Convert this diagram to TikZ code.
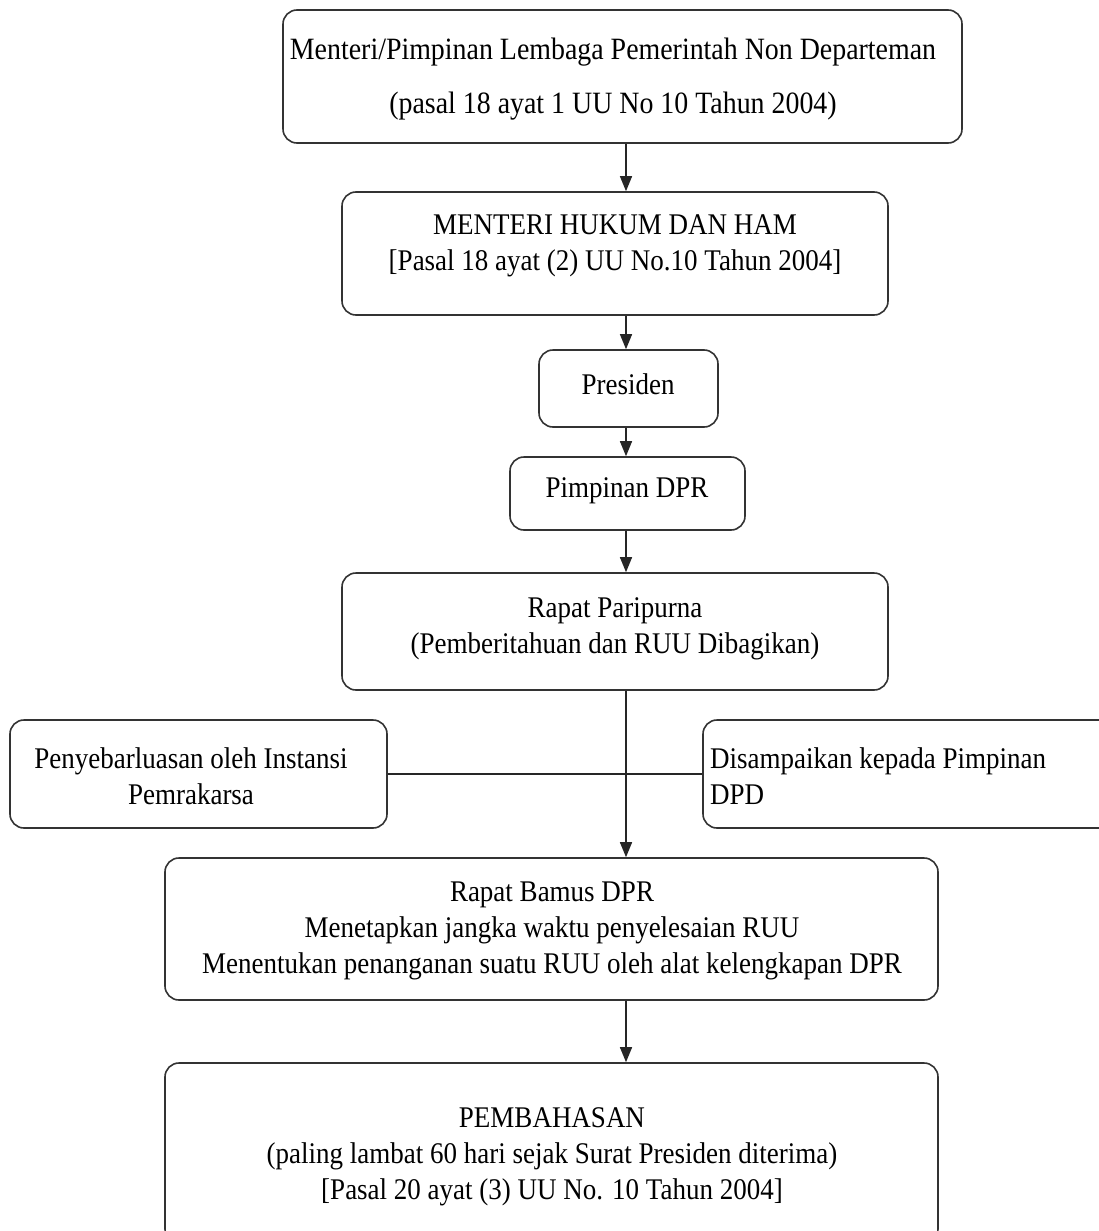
\documentclass[tikz,border=0pt]{standalone}
\usepackage{fontspec}
\setmainfont[FakeStretch=0.9]{Liberation Serif}
\usetikzlibrary{arrows.meta}
\begin{document}
\begin{tikzpicture}[x=1pt,y=-1pt,
  box/.style={draw=black!80, line width=1.6pt, rounded corners=14pt, inner sep=0pt},
  txt/.style={align=center, font=\fontsize{30}{36}\selectfont, inner sep=0pt, text=black},
  arr/.style={draw=black!85, line width=1.4pt, -{Triangle[length=15pt,width=12pt]}},
  ln/.style={draw=black!85, line width=1.4pt}]
\useasboundingbox (0,0) rectangle (1099,1231);
\clip (0,0) rectangle (1099,1231);
\coordinate (ax) at (626,0);

% boxes
\node[box, minimum width=679pt, minimum height=133pt] (b1) at (622.5,76.5) {};
\node[box, minimum width=546pt, minimum height=123pt] (b2) at (615,253.5) {};
\node[box, minimum width=179pt, minimum height=77pt] (b3) at (628.5,388.5) {};
\node[box, minimum width=235pt, minimum height=73pt] (b4) at (627.5,493.5) {};
\node[box, minimum width=546pt, minimum height=117pt] (b5) at (615,631.5) {};
\node[box, minimum width=377pt, minimum height=108pt] (bl) at (198.5,774) {};
\node[box, minimum width=410pt, minimum height=108pt] (br) at (908,774) {};
\node[box, minimum width=773pt, minimum height=142pt] (b6) at (551.5,929) {};
\node[box, minimum width=773pt, minimum height=180pt] (b7) at (551.5,1153) {};

% texts
\node[txt, font=\fontsize{31}{54}\selectfont] (t1) at (613,79) {Menteri/Pimpinan Lembaga Pemerintah Non Departeman\\(pasal 18 ayat 1 UU No 10 Tahun 2004)};
\node[txt] (t2) at (615,246) {MENTERI HUKUM DAN HAM\\{}[Pasal 18 ayat (2) UU No.10 Tahun 2004]};
\node[txt] (t3) at (628,384) {Presiden};
\node[txt] (t4) at (627,491) {Pimpinan DPR};
\node[txt] (t5) at (615,629) {Rapat Paripurna\\(Pemberitahuan dan RUU Dibagikan)};
\node[txt] (tl) at (191,776) {Penyebarluasan oleh Instansi\\Pemrakarsa};
\node[txt, align=left, anchor=west] (tr) at (710,776) {Disampaikan kepada Pimpinan\\DPD};
\node[txt] (t6) at (552,931) {Rapat Bamus DPR\\Menetapkan jangka waktu penyelesaian RUU\\Menentukan penanganan suatu RUU oleh alat kelengkapan DPR};
\node[txt] (t7) at (552,1157) {PEMBAHASAN\\(paling lambat 60 hari sejak Surat Presiden diterima)\\{}[Pasal 20 ayat (3) UU No. 10 Tahun 2004]};

% connectors
\draw[arr] (b1.south -| ax) -- (b2.north -| ax);
\draw[arr] (b2.south -| ax) -- (b3.north -| ax);
\draw[arr] (b3.south -| ax) -- (b4.north -| ax);
\draw[arr] (b4.south -| ax) -- (b5.north -| ax);
\draw[arr] (b5.south -| ax) -- (b6.north -| ax);
\draw[ln] (bl.east) -- (br.west);
\draw[arr] (b6.south -| ax) -- (b7.north -| ax);
\end{tikzpicture}
\end{document}
